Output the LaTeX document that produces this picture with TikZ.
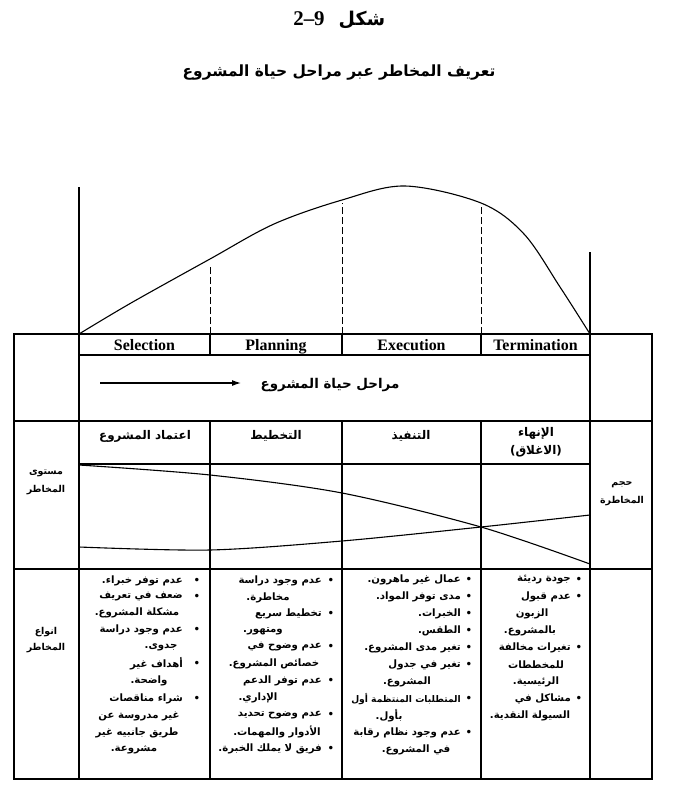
\documentclass[tikz,border=0pt]{standalone}
\usepackage{fontspec}
\setmainfont{Liberation Serif}
\newfontfamily\arabicfont[Script=Arabic]{DejaVu Sans}
\newfontfamily\bulfont{DejaVu Sans}
\TeXXeTstate=1
\usetikzlibrary{arrows.meta}
\newcommand\ar[1]{\beginR #1\endR}
\tikzset{
  tbl/.style={line width=1.1bp},
  lat/.style={font=\fontsize{16}{17}\selectfont\bfseries, inner sep=0pt, anchor=base},
  hd/.style={font=\fontsize{12}{14}\arabicfont\bfseries, inner sep=0pt},
  side/.style={font=\fontsize{9.5}{11}\arabicfont\bfseries, inner sep=0pt},
  fl/.style={font=\fontsize{10.2}{11}\arabicfont\bfseries, inner sep=0pt, anchor=east},
  cl/.style={font=\fontsize{10.2}{11}\arabicfont\bfseries, inner sep=0pt},
  bul/.style={font=\fontsize{12}{12}\bulfont, inner sep=0pt},
  dsh/.style={line width=0.9bp, dash pattern=on 7bp off 3bp},
}
\begin{document}
\begin{tikzpicture}[x=1bp,y=-1bp]
\useasboundingbox (0,0) rectangle (679,791);
% titles
\node[font=\fontsize{21}{22}\selectfont\bfseries, inner sep=0pt, anchor=base] (num) at (309,26) {2--9};
\node[font=\fontsize{19}{22}\arabicfont\bfseries, inner sep=0pt, anchor=base] (shkl) at (362,26) {\ar{شكل}};
\node[font=\fontsize{15.5}{18}\arabicfont\bfseries, inner sep=0pt] (sub) at (339,73) {\ar{تعريف المخاطر عبر مراحل حياة المشروع}};
% life-cycle curve
\coordinate (L0) at (79,334);
\coordinate (R0) at (590,334);
\coordinate (Ltop) at (79,187);
\coordinate (Rtop) at (590,252);
\draw[tbl] (L0) -- (Ltop);
\draw[tbl] (R0) -- (Rtop);
\draw[line width=1.1bp] plot[smooth, tension=0.55] coordinates {(79,334) (131,303) (210,259) (274,224) (342,200) (405,186) (481,203) (524,234) (560,287) (590,334)};
\coordinate (d1b) at (210,334); \coordinate (d1t) at (210,266);
\coordinate (d2b) at (342,334); \coordinate (d2t) at (342,203);
\coordinate (d3b) at (481,334); \coordinate (d3t) at (481,205);
\draw[dsh] (d1b) -- (d1t);
\draw[dsh] (d2b) -- (d2t);
\draw[dsh] (d3b) -- (d3t);
% table
\coordinate (TL) at (14,334); \coordinate (BR) at (652,779);
\draw[tbl] (TL) rectangle (BR);
\draw[tbl] (79,334) -- (79,779);
\draw[tbl] (590,334) -- (590,779);
\draw[tbl] (79,355) -- (590,355);
\draw[tbl] (14,421) -- (652,421);
\draw[tbl] (79,464) -- (590,464);
\draw[tbl] (14,569) -- (652,569);
\foreach \xx in {210,342,481} {
  \draw[tbl] (\xx,334) -- (\xx,355);
  \draw[tbl] (\xx,421) -- (\xx,779);
}
% phase names
\node[lat] (sel) at (144.5,350) {Selection};
\node[lat] (pla) at (276,350) {Planning};
\node[lat] (exe) at (411.5,350) {Execution};
\node[lat] (ter) at (535.5,350) {Termination};
% arrow row
\coordinate (a1) at (100,383);
\coordinate (a2) at (241,383);
\draw[line width=1.2bp, -{Latex[length=9bp,width=6bp]}] (a1) -- (a2);
\node[font=\fontsize{13.5}{14}\arabicfont\bfseries, inner sep=0pt] (lc) at (330,385) {\ar{مراحل حياة المشروع}};
% arabic phase headers
\node[hd] (h1) at (145,436) {\ar{اعتماد المشروع}};
\node[hd] (h2) at (276,436) {\ar{التخطيط}};
\node[hd] (h3) at (411,436) {\ar{التنفيذ}};
\node[hd] (h4) at (536,433) {\ar{الإنهاء}};
\node[hd] (h4b) at (536,451) {\ar{(الاغلاق)}};
% side labels
\node[side] (s1) at (46,473) {\ar{مستوى}};
\node[side] (s2) at (46,490) {\ar{المخاطر}};
\node[side] (s3) at (622,485) {\ar{حجم}};
\node[side] (s4) at (622,501) {\ar{المخاطرة}};
\node[side] (s5) at (46,632) {\ar{انواع}};
\node[side] (s6) at (46,648) {\ar{المخاطر}};
% risk curves
\draw[line width=1.1bp] plot[smooth, tension=0.5] coordinates {(79,465) (210,475) (342,493) (481,527) (590,564)};
\draw[line width=1.1bp] plot[smooth, tension=0.5] coordinates {(79,547) (210,550) (342,541) (481,527) (590,515)};
% column 1
\foreach \yy in {581,597,630,664,699} {\node[bul] at (197,\yy) {•};}
\node[fl] (c1a) at (183,581) {\ar{عدم توفر خبراء.}};
\node[fl] (c1b) at (183,597) {\ar{ضعف في تعريف}};
\node[cl] (c1c) at (137,613) {\ar{مشكلة المشروع.}};
\node[fl] (c1d) at (183,630) {\ar{عدم وجود دراسة}};
\node[cl] (c1e) at (161,647) {\ar{جدوى.}};
\node[fl] (c1f) at (183,664) {\ar{أهداف غير}};
\node[cl] (c1g) at (149,681) {\ar{واضحة.}};
\node[fl] (c1h) at (183,699) {\ar{شراء مناقصات}};
\node[cl] (c1i) at (139,716) {\ar{غير مدروسة عن}};
\node[cl] (c1j) at (137,733) {\ar{طريق جانبيه غير}};
\node[cl] (c1k) at (134,750) {\ar{مشروعة.}};
% column 2
\foreach \yy in {581,614,647,681,715,749} {\node[bul] at (331,\yy) {•};}
\node[fl] (c2a) at (322,581) {\ar{عدم وجود دراسة}};
\node[cl] (c2b) at (268,598) {\ar{مخاطرة.}};
\node[fl] (c2c) at (322,614) {\ar{تخطيط سريع}};
\node[cl] (c2d) at (263,631) {\ar{ومتهور.}};
\node[fl] (c2e) at (322,647) {\ar{عدم وضوح في}};
\node[cl] (c2f) at (274,664) {\ar{خصائص المشروع.}};
\node[fl] (c2g) at (322,681) {\ar{عدم توفر الدعم}};
\node[cl] (c2h) at (258,698) {\ar{الإداري.}};
\node[fl] (c2i) at (322,715) {\ar{عدم وضوح تحديد}};
\node[cl] (c2j) at (277,732) {\ar{الأدوار والمهمات.}};
\node[fl] (c2k) at (322,749) {\ar{فريق لا يملك الخبرة.}};
% column 3
\foreach \yy in {580,597,614,631,648,665,699,733} {\node[bul] at (469,\yy) {•};}
\node[fl] (c3a) at (461,580) {\ar{عمال غير ماهرون.}};
\node[fl] (c3b) at (461,597) {\ar{مدى توفر المواد.}};
\node[fl] (c3c) at (461,614) {\ar{الخبرات.}};
\node[fl] (c3d) at (461,631) {\ar{الطقس.}};
\node[fl] (c3e) at (461,648) {\ar{تغير مدى المشروع.}};
\node[fl] (c3f) at (461,665) {\ar{تغير في جدول}};
\node[cl] (c3g) at (407,682) {\ar{المشروع.}};
\node[fl, font=\fontsize{9.2}{11}\arabicfont\bfseries] (c3h) at (461,699) {\ar{المتطلبات المنتظمة أول}};
\node[cl] (c3i) at (389,716) {\ar{بأول.}};
\node[fl] (c3j) at (461,733) {\ar{عدم وجود نظام رقابة}};
\node[cl] (c3k) at (416,750) {\ar{في المشروع.}};
% column 4
\foreach \yy in {580,597,648,699} {\node[bul] at (579,\yy) {•};}
\node[fl] (c4a) at (571,580) {\ar{جودة رديئة}};
\node[fl] (c4b) at (571,597) {\ar{عدم قبول}};
\node[cl] (c4c) at (532,614) {\ar{الزبون}};
\node[cl] (c4d) at (530,631) {\ar{بالمشروع.}};
\node[fl] (c4e) at (571,648) {\ar{تغيرات مخالفة}};
\node[cl] (c4f) at (536,665) {\ar{للمخططات}};
\node[cl] (c4g) at (536,682) {\ar{الرئيسية.}};
\node[fl] (c4h) at (571,699) {\ar{مشاكل في}};
\node[cl] (c4i) at (530,716) {\ar{السيولة النقدية.}};
\end{tikzpicture}
\end{document}
